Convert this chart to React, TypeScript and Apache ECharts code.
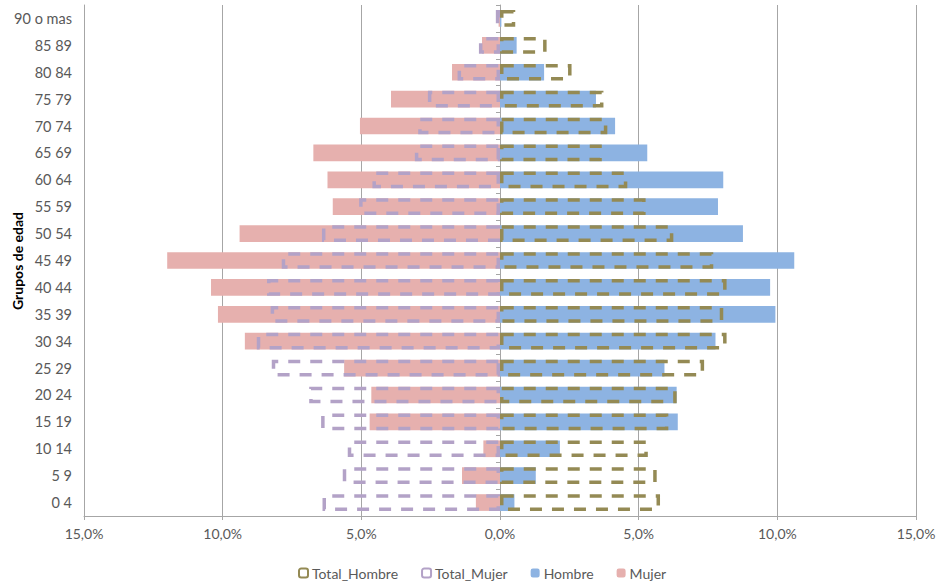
import React, { useEffect, useRef } from "react";
import * as echarts from "echarts";

// Age groups, bottom to top
const categories = [
  "0 4", "5 9", "10 14", "15 19", "20 24", "25 29", "30 34", "35 39", "40 44",
  "45 49", "50 54", "55 59", "60 64", "65 69", "70 74", "75 79", "80 84", "85 89", "90 o mas",
];

// Shares of population (%), women shown as negative values
const mujer = [
  -0.87, -1.37, -0.6, -4.7, -4.64, -5.62, -9.2, -10.17, -10.42,
  -12.0, -9.39, -6.03, -6.22, -6.73, -5.05, -3.93, -1.73, -0.65, -0.05,
];
const hombre = [
  0.52, 1.29, 2.16, 6.41, 6.37, 5.93, 7.77, 9.93, 9.74,
  10.61, 8.76, 7.86, 8.05, 5.31, 4.15, 3.46, 1.59, 0.6, 0.05,
];
const totalMujer = [
  -6.4, -5.67, -5.49, -6.45, -6.88, -8.23, -8.77, -8.27, -8.4,
  -7.87, -6.42, -5.08, -4.6, -3.07, -2.95, -2.6, -1.53, -0.76, -0.15,
];
const totalHombre = [
  5.77, 5.65, 5.33, 6.07, 6.37, 7.36, 8.17, 8.05, 8.17,
  7.69, 6.25, 5.25, 4.59, 3.67, 3.87, 3.73, 2.58, 1.68, 0.55,
];

const FONT = "Lato";
const TEXT = "#595959";
const GRID = "#A6A6A6";

export default function App() {
  const ref = useRef<HTMLDivElement>(null);

  useEffect(() => {
    if (!ref.current) return;
    const chart = echarts.init(ref.current, undefined, { renderer: "svg" });

    const dashedBar = (name: string, data: number[], color: string) => ({
      name,
      type: "bar",
      data,
      barWidth: "62%",
      barGap: "-100%",
      z: 3,
      itemStyle: {
        color: "rgba(0,0,0,0)",
        borderColor: color,
        borderWidth: 3.5,
        borderType: [12, 10],
      },
    });

    chart.setOption({
      animation: false,
      textStyle: { fontFamily: FONT },
      grid: {
        left: 84,
        right: 20,
        top: 5,
        bottom: 69,
        containLabel: false,
        outerBoundsMode: "none",
      },
      // Vertical axis title
      graphic: [
        {
          type: "text",
          x: 17,
          y: 261,
          rotation: Math.PI / 2,
          style: {
            text: "Grupos de edad",
            fill: "#000",
            font: `bold 14px ${FONT}`,
            align: "center",
            verticalAlign: "middle",
          },
        },
      ],
      legend: {
        bottom: 0,
        left: 293,
        itemWidth: 9,
        itemHeight: 9,
        itemGap: 23,
        textStyle: { color: TEXT, fontSize: 14, fontFamily: FONT, padding: [0, 0, 0, -1] },
        data: ["Total_Hombre", "Total_Mujer", "Hombre", "Mujer"],
      },
      xAxis: {
        type: "value",
        min: -15,
        max: 15,
        interval: 5,
        axisLine: { show: true, lineStyle: { color: GRID } },
        axisTick: { show: true, length: 4, lineStyle: { color: GRID } },
        splitLine: { show: true, showMinLine: true, showMaxLine: true, lineStyle: { color: GRID, width: 1 } },
        axisLabel: {
          color: TEXT,
          fontSize: 14,
          margin: 10,
          formatter: (v: number) => Math.abs(v).toFixed(1).replace(".", ",") + "%",
        },
      },
      yAxis: [
        {
          type: "category",
          data: categories,
          axisLine: { show: true, onZero: false, lineStyle: { color: GRID } },
          axisTick: { show: false },
          axisLabel: { color: TEXT, fontSize: 14.5, margin: 12 },
        },
        {
          type: "category",
          data: categories,
          position: "left",
          axisLine: { show: true, onZero: true, lineStyle: { color: GRID } },
          axisTick: { show: true, length: 4, lineStyle: { color: GRID } },
          axisLabel: { show: false },
        },
      ],
      series: [
        {
          name: "Hombre",
          type: "bar",
          data: hombre,
          barWidth: "62%",
          barGap: "-100%",
          itemStyle: { color: "#8DB3E2" },
        },
        {
          name: "Mujer",
          type: "bar",
          data: mujer,
          barWidth: "62%",
          barGap: "-100%",
          itemStyle: { color: "#E6B0AE" },
        },
        dashedBar("Total_Hombre", totalHombre, "#948A54"),
        dashedBar("Total_Mujer", totalMujer, "#B3A2C7"),
      ],
    });

    return () => chart.dispose();
  }, []);

  return (
    <div
      ref={ref}
      style={{ position: "fixed", left: 0, top: 0, width: 936, height: 585, background: "#fff" }}
    />
  );
}
